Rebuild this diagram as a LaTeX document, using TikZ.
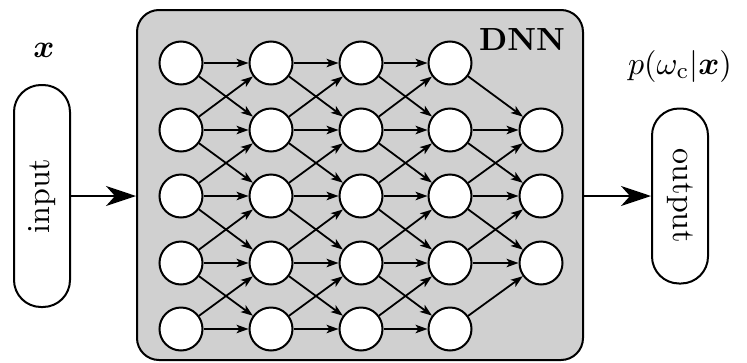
\documentclass[tikz,border=0pt]{standalone}
\usepackage{amsmath,bm}
\usetikzlibrary{arrows.meta}
\definecolor{boxgray}{RGB}{208,208,208}
\newcommand{\bigtxt}[1]{\scalebox{3.2}{#1}}
\begin{document}
\begin{tikzpicture}[x=1pt,y=-1pt,
  neuron/.style={circle,draw,fill=white,line width=2pt,minimum size=43pt,inner sep=0pt},
  pill/.style={rounded corners=27pt,draw,fill=white,line width=2pt,inner sep=0pt},
  conn/.style={line width=1.8pt,-{Stealth[length=12pt,width=8.5pt,inset=3pt]}},
  bigarrow/.style={line width=1.8pt,-{Stealth[length=30pt,width=20pt,inset=9pt]}},
  lbl/.style={inner sep=0pt}]
\useasboundingbox (0,0) rectangle (747,362);
% DNN box
\node[draw,fill=boxgray,line width=2pt,rounded corners=22pt,minimum width=446pt,minimum height=350pt,inner sep=0pt] (dnn) at (360,185) {};
\node[lbl,anchor=center] (dnnlbl) at (522,40) {\bigtxt{\textbf{DNN}}};
% neurons
\foreach \c/\x in {1/181,2/271,3/361,4/450}{
  \foreach \r/\y in {1/63,2/130,3/196,4/263,5/329}{
    \node[neuron] (n\c\r) at (\x,\y) {};
  }
}
\foreach \r/\y in {2/130,3/196,4/263}{
  \node[neuron] (n5\r) at (541,\y) {};
}
% connections between full layers
\foreach \c/\d in {1/2,2/3,3/4}{
  \foreach \r in {1,...,5}{
    \draw[conn] (n\c\r) -- (n\d\r);
  }
  \foreach \r/\s in {1/2,2/3,3/4,4/5}{
    \draw[conn] (n\c\r) -- (n\d\s);
    \draw[conn] (n\c\s) -- (n\d\r);
  }
}
% last layer
\draw[conn] (n41) -- (n52);
\draw[conn] (n42) -- (n52);
\draw[conn] (n42) -- (n53);
\draw[conn] (n43) -- (n52);
\draw[conn] (n43) -- (n53);
\draw[conn] (n43) -- (n54);
\draw[conn] (n44) -- (n53);
\draw[conn] (n44) -- (n54);
\draw[conn] (n45) -- (n54);
% input / output
\node[pill,minimum width=56pt,minimum height=222pt] (in) at (42,196) {};
\node[lbl,rotate=90] (intxt) at (in.center) {\bigtxt{input}};
\node[pill,minimum width=56pt,minimum height=175pt] (out) at (680,196) {};
\node[lbl,rotate=-90] (outtxt) at (out.center) {\bigtxt{output}};
\node[lbl] (xlbl) at (44,50) {\bigtxt{$\bm{x}$}};
\node[lbl] (plbl) at (680,66) {\bigtxt{$p(\omega_{\mathrm{c}}|\bm{x})$}};
\draw[bigarrow] (in.east) -- (dnn.west |- in.east);
\draw[bigarrow] (dnn.east |- out.west) -- (out.west);
\end{tikzpicture}
\end{document}
